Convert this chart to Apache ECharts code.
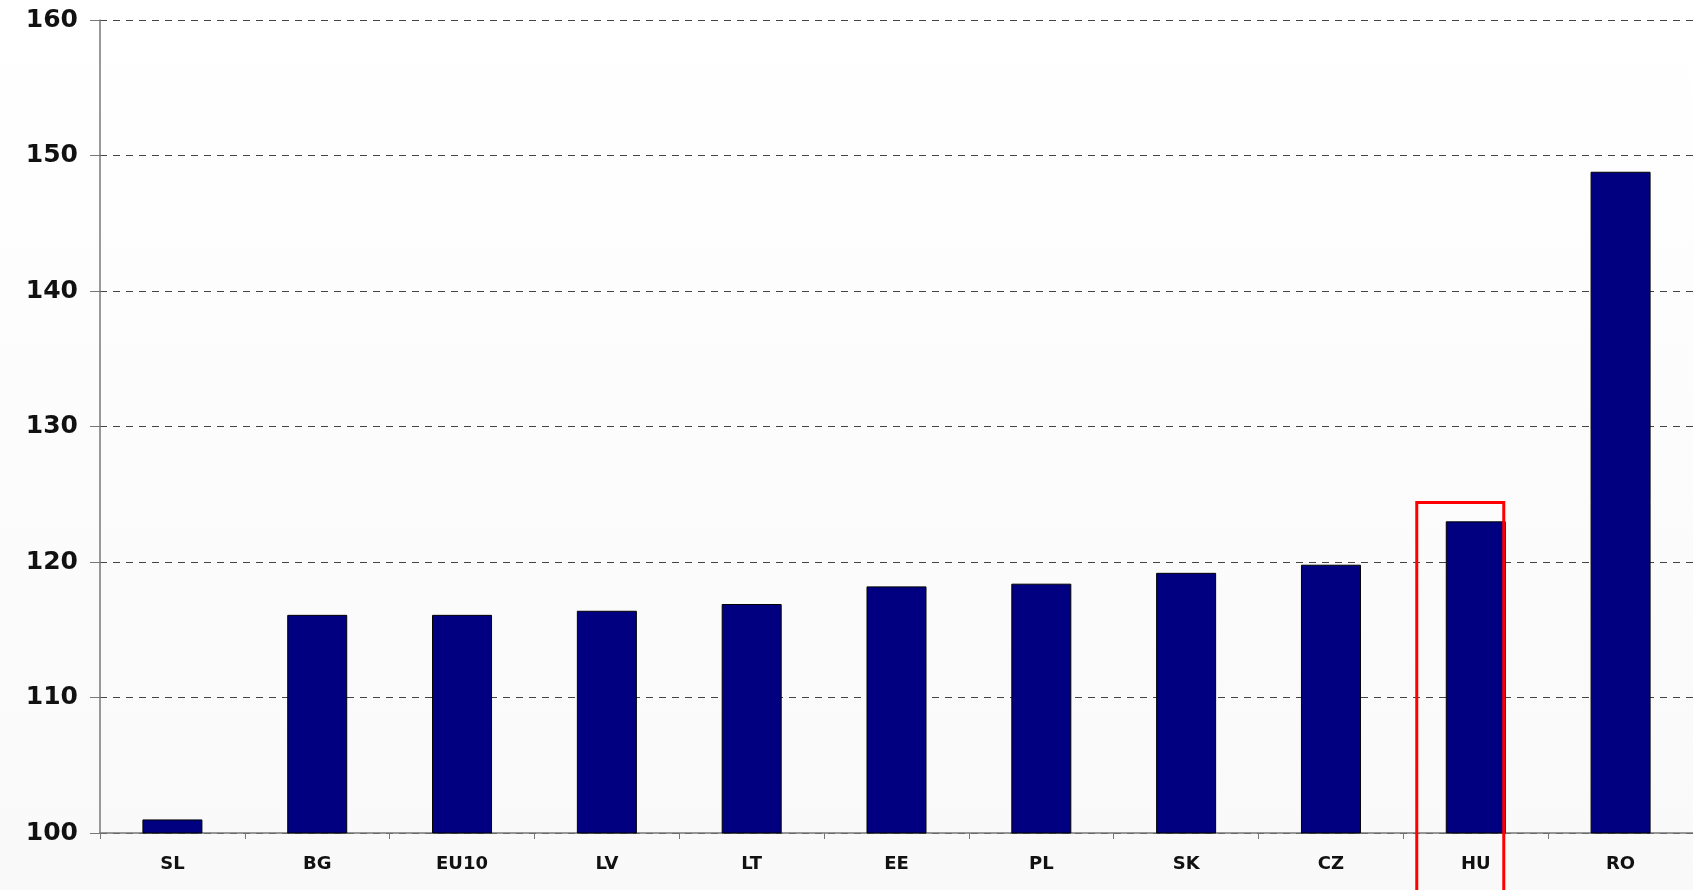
<!DOCTYPE html>
<html>
<head>
<meta charset="utf-8">
<script src="https://cdn.jsdelivr.net/npm/echarts@6/dist/echarts.min.js"></script>
<style>
  html, body { margin: 0; padding: 0; }
  #main { width: 1693px; height: 890px; }
</style>
</head>
<body>
<div id="main"></div>
<script>
// countries, sorted as in the picture
const countries = ["SL", "BG", "EU10", "LV", "LT", "EE", "PL", "SK", "CZ", "HU", "RO"];
const values = [101.0, 116.1, 116.1, 116.4, 116.9, 118.2, 118.4, 119.2, 119.8, 123.0, 148.8];
const highlighted = "HU";
const highlightTop = 124.4; // top of the red frame, in axis units

const chart = echarts.init(document.getElementById("main"), null, { renderer: "canvas" });

chart.setOption({
  backgroundColor: {
    type: "linear", x: 0, y: 0, x2: 0, y2: 1,
    colorStops: [
      { offset: 0, color: "#ffffff" },
      { offset: 1, color: "#f9f9f9" },
    ],
  },
  animation: false,
  grid: { left: 100, right: 0, top: 20, bottom: 57 },
  xAxis: {
    type: "category",
    data: countries,
    axisLine: { lineStyle: { color: "#777", width: 1.5 } },
    axisTick: { show: true, length: 6, lineStyle: { color: "#777" } },
    axisLabel: {
      margin: 22,
      color: "#111",
      fontFamily: "DejaVu Sans",
      fontWeight: "bold",
      fontSize: 18,
    },
  },
  yAxis: {
    type: "value",
    min: 100,
    max: 160,
    interval: 10,
    axisLine: { show: true, lineStyle: { color: "#777", width: 1.5 } },
    axisTick: { show: true, length: 10, lineStyle: { color: "#777" } },
    axisLabel: {
      margin: 22,
      color: "#111",
      fontFamily: "DejaVu Sans",
      fontWeight: "bold",
      fontSize: 25,
    },
    splitLine: {
      lineStyle: { color: "#444", type: [7, 6], width: 1 },
    },
  },
  series: [
    {
      type: "bar",
      data: values,
      barWidth: 60,
      itemStyle: { color: "#000080", borderColor: "#000", borderWidth: 1 },
    },
  ],
});

// red frame around the highlighted bar
const hu = chart.convertToPixel({ seriesIndex: 0 }, [highlighted, highlightTop]);
chart.setOption({
  graphic: [
    {
      type: "rect",
      shape: { x: hu[0] - 59, y: hu[1], width: 87, height: 900 - hu[1] },
      style: { fill: null, stroke: "#ff0000", lineWidth: 3 },
      z: 100,
    },
  ],
});
</script>
</body>
</html>
